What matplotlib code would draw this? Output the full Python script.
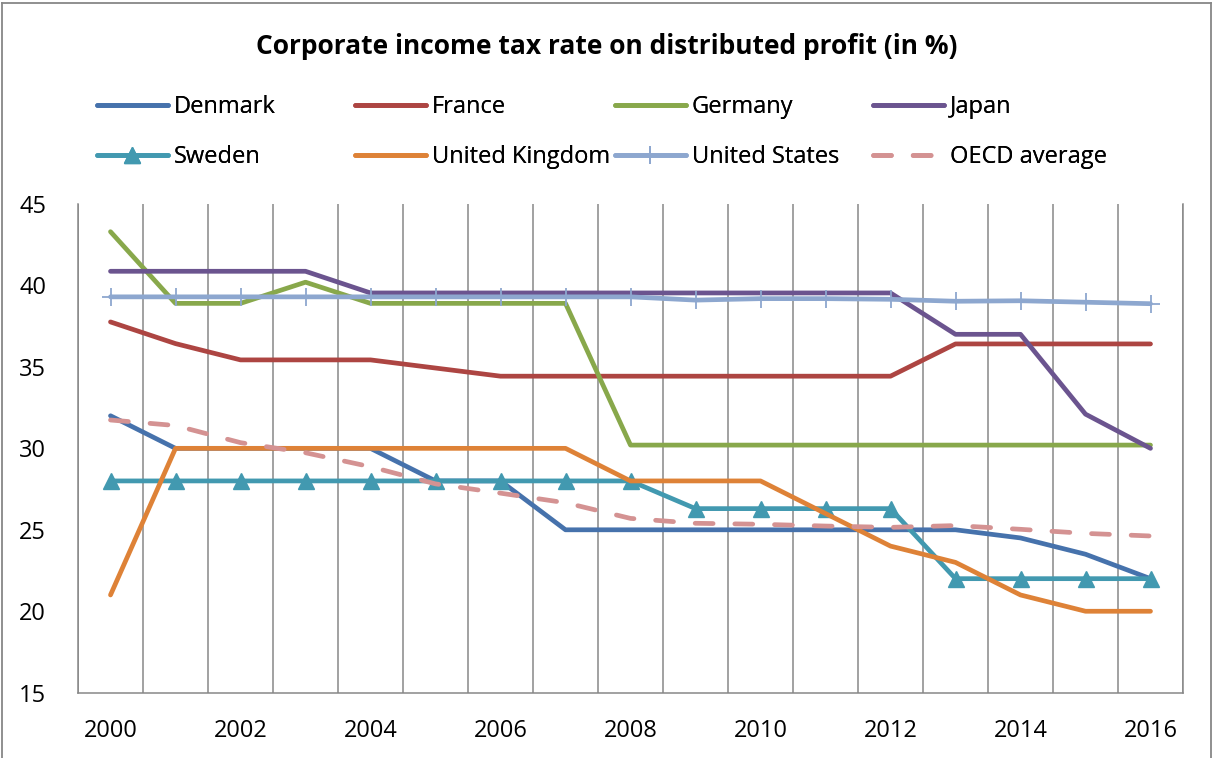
import matplotlib
matplotlib.use("Agg")
import matplotlib.pyplot as plt
import numpy as np
from matplotlib.lines import Line2D

plt.rcParams['font.family'] = ['Open Sans', 'DejaVu Sans']

years = list(range(2000, 2017))
denmark = [32, 30, 30, 30, 30, 28, 28, 25, 25, 25, 25, 25, 25, 25, 24.5, 23.5, 22]
france = [37.76, 36.43, 35.43, 35.43, 35.43, 34.93, 34.43, 34.43, 34.43, 34.43,
          34.43, 34.43, 34.43, 36.41, 36.41, 36.41, 36.41]
germany = [43.3, 38.9, 38.9, 40.2, 38.9, 38.9, 38.9, 38.9, 30.2, 30.2,
           30.2, 30.2, 30.2, 30.2, 30.2, 30.2, 30.2]
japan = [40.87, 40.87, 40.87, 40.87, 39.54, 39.54, 39.54, 39.54, 39.54, 39.54,
         39.54, 39.54, 39.54, 37.0, 37.0, 32.1, 30.0]
sweden = [28, 28, 28, 28, 28, 28, 28, 28, 28, 26.3, 26.3, 26.3, 26.3, 22, 22, 22, 22]
uk = [21, 30, 30, 30, 30, 30, 30, 30, 28, 28, 28, 26, 24, 23, 21, 20, 20]
us = [39.3, 39.3, 39.3, 39.3, 39.3, 39.3, 39.3, 39.3, 39.3, 39.1,
      39.19, 39.19, 39.15, 39.03, 39.06, 38.97, 38.88]
oecd = [31.74, 31.4, 30.35, 29.73, 28.87, 27.82, 27.25, 26.66, 25.7, 25.4,
        25.34, 25.23, 25.15, 25.26, 25.03, 24.78, 24.62]

names = ['Denmark', 'France', 'Germany', 'Japan',
         'Sweden', 'United Kingdom', 'United States', 'OECD average']
colors = ['#4672AC', '#AD4542', '#88A84B', '#6B548F',
          '#4299B0', '#DE8237', '#8DA7CF', '#D49292']
series = [denmark, france, germany, japan, sweden, uk, us, oecd]

fig = plt.figure(figsize=(12.13, 7.58), dpi=100)
ax = fig.add_axes([78 / 1213, 1 - 692.7 / 758, 1105 / 1213, 488.7 / 758])

x = np.arange(len(years))
lw = 3.4
handles = []
for name, vals, c in zip(names, series, colors):
    kw = dict(color=c, lw=lw, solid_capstyle='round', solid_joinstyle='round')
    if name == 'Sweden':
        kw.update(marker='^', ms=11, mec=c, mfc=c)
    elif name == 'United States':
        kw.update(marker='+', ms=13, mew=1.3, mec=c)
    elif name == 'OECD average':
        kw.update(linestyle=(0, (3.8, 4.6)), dash_capstyle='round')
    h, = ax.plot(x, vals, label=name, **kw)
    handles.append(h)

ax.set_xlim(-0.5, len(years) - 0.5)
ax.set_ylim(15, 45)
ax.set_yticks(np.arange(15, 46, 5))
ax.set_xticks(x[::2])
ax.set_xticklabels([str(y) for y in years[::2]])
ax.set_xticks(np.arange(-0.5, len(years), 1), minor=True)
ax.grid(which='minor', axis='x', color='#878787', lw=1.1)
ax.set_axisbelow(True)
ax.tick_params(which='both', length=0, labelsize=17, colors='black')
ax.tick_params(axis='y', pad=23)
ax.tick_params(axis='x', pad=19)
ax.spines['top'].set_visible(False)
for s in ['left', 'bottom', 'right']:
    ax.spines[s].set_color('#878787')
    ax.spines[s].set_linewidth(1.1)

fig.text(0.5, 1 - 46 / 758, 'Corporate income tax rate on distributed profit (in %)',
         ha='center', va='center', fontsize=19, fontweight='bold')

# legend: four columns, two rows
col_x = [97, 355, 615, 873]
for i, cx in enumerate(col_x):
    leg = fig.legend([handles[i], handles[i + 4]], [names[i], names[i + 4]],
                     loc='upper left', bbox_to_anchor=(cx / 1213, 1 - 95 / 758),
                     frameon=False, fontsize=17, handlelength=3.0,
                     handletextpad=0.25, borderpad=0, borderaxespad=0,
                     labelspacing=1.1)
    fig.add_artist(leg)

# chart border
for xs, ys in [([2 / 1213, 2 / 1213], [0, 1 - 3 / 758]),
               ([2 / 1213, 1211 / 1213], [1 - 3 / 758, 1 - 3 / 758]),
               ([1211 / 1213, 1211 / 1213], [1 - 3 / 758, 0])]:
    fig.add_artist(Line2D(xs, ys, color='#878787', lw=1.3, transform=fig.transFigure))

fig.savefig('out.png', dpi=100)
